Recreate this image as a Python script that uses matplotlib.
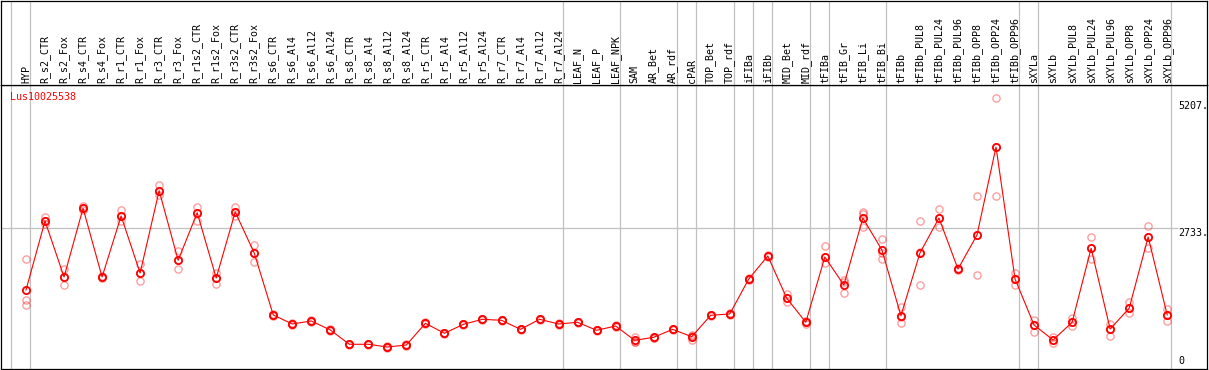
import numpy as np
import matplotlib.pyplot as plt

# Column labels, in the order they appear along the x axis.
samples = ['HYP',
           'R_s2_CTR', 'R_s2_Fox', 'R_s4_CTR', 'R_s4_Fox', 'R_r1_CTR', 'R_r1_Fox',
           'R_r3_CTR', 'R_r3_Fox', 'R_r1s2_CTR', 'R_r1s2_Fox', 'R_r3s2_CTR', 'R_r3s2_Fox',
           'R_s6_CTR', 'R_s6_Al4', 'R_s6_Al12', 'R_s6_Al24',
           'R_s8_CTR', 'R_s8_Al4', 'R_s8_Al12', 'R_s8_Al24',
           'R_r5_CTR', 'R_r5_Al4', 'R_r5_Al12', 'R_r5_Al24',
           'R_r7_CTR', 'R_r7_Al4', 'R_r7_Al12', 'R_r7_Al24',
           'LEAF_N', 'LEAF_P', 'LEAF_NPK',
           'SAM', 'AR_Bet', 'AR_rdf',
           'cPAR',
           'TOP_Bet', 'TOP_rdf',
           'iFIBa',
           'iFIBb',
           'MID_Bet', 'MID_rdf',
           'tFIBa',
           'tFIB_Gr', 'tFIB_Li', 'tFIB_Bi',
           'tFIBb', 'tFIBb_PUL8', 'tFIBb_PUL24', 'tFIBb_PUL96',
           'tFIBb_OPP8', 'tFIBb_OPP24', 'tFIBb_OPP96',
           'sXYLa',
           'sXYLb', 'sXYLb_PUL8', 'sXYLb_PUL24', 'sXYLb_PUL96',
           'sXYLb_OPP8', 'sXYLb_OPP24', 'sXYLb_OPP96']

# Last sample of each group; a grey separator follows it.
group_ends = ['HYP', 'R_r7_Al24', 'LEAF_NPK', 'AR_rdf', 'cPAR', 'TOP_rdf',
              'iFIBa', 'iFIBb', 'MID_rdf', 'tFIBa', 'tFIB_Bi', 'tFIBb_OPP96',
              'sXYLa', 'sXYLb_OPP96']

# Mean expression per sample.
means = [1527,
         2869, 1780, 3116, 1780, 2966, 1857, 3458, 2104, 3030, 1760, 3044, 2246,
         1041, 866, 924, 749,
         471, 471, 418, 457,
         879, 685, 860, 957,
         937, 762, 957, 866,
         899, 743, 827,
         548, 607, 762,
         618,
         1035, 1060,
         1741,
         2188,
         1365, 899,
         2169,
         1624, 2927, 2305,
         1027, 2246, 2927, 1935,
         2597, 4308, 1741,
         846,
         554, 899, 2338, 768,
         1171, 2558, 1041]

# Replicate values (three per sample).
rep1 = [2130,
        2953, 1941, 3161, 1799, 3083, 2033, 3575, 2285, 3147, 1863, 3147, 2402,
        1060, 880, 940, 765,
        485, 480, 430, 470,
        895, 700, 875, 970,
        950, 775, 970, 880,
        912, 755, 840,
        607, 620, 775,
        660,
        1050, 1075,
        1755,
        2200,
        1443, 930,
        2383,
        1721, 3050, 2513,
        1202, 2863, 3102, 1960,
        3355, 5255, 1863,
        943,
        618, 976, 2552, 860,
        1288, 2772, 1151]
rep2 = [1332,
        2869, 1780, 3122, 1780, 2966, 1857, 3458, 2104, 3030, 1760, 3044, 2246,
        1041, 866, 924, 749,
        471, 471, 418, 457,
        879, 685, 860, 957,
        937, 762, 957, 866,
        899, 743, 827,
        520, 600, 762,
        640,
        1035, 1060,
        1741,
        2188,
        1365, 899,
        2169,
        1688, 3005, 2246,
        1000, 2266, 2927, 1935,
        2597, 4308, 1741,
        846,
        554, 899, 2338, 768,
        1171, 2558, 1041]
rep3 = [1235,
        2811, 1618, 3083, 1760, 2869, 1702, 3375, 1929, 2875, 1638, 2966, 2071,
        1025, 850, 910, 735,
        460, 460, 405, 445,
        865, 670, 845, 945,
        925, 750, 945, 852,
        885, 730, 815,
        520, 595, 750,
        554,
        1020, 1045,
        1728,
        2175,
        1299, 870,
        2046,
        1463, 2758, 2130,
        879, 1624, 2758, 1910,
        1819, 3355, 1624,
        716,
        490, 832, 2130, 638,
        1074, 2338, 930]

gene = 'Lus10025538'
max_label = '5207.'
mid_value = 2733
mid_label = '2733.'

W, H = 1209, 370
FONT = 'DejaVu Sans Mono'
FS = 7.2
GRID = '#c0c0c0'

x = np.arange(len(samples))
# pixel geometry of the column grid
x0_px, step_px = 26, 19.02
left_px, right_px = 1, 1207
head_px, bottom_px = 85, 369
scale = 19.45  # data units per pixel

xlim = ((left_px - x0_px) / step_px, (right_px - x0_px) / step_px)
ylim = (-0.5 * scale, (bottom_px - head_px - 0.5) * scale)

fig = plt.figure(figsize=(W / 100, H / 100), dpi=100)
ax = fig.add_axes([left_px / W, (H - bottom_px) / H,
                   (right_px - left_px) / W, (bottom_px - head_px) / H])
hx = fig.add_axes([left_px / W, (H - head_px) / H,
                   (right_px - left_px) / W, (head_px - 0.5) / H])

for a in (ax, hx):
    a.set_xlim(xlim)
    a.set_xticks([])
    a.set_yticks([])
    for s in a.spines.values():
        s.set_linewidth(0.9)
        s.set_color('black')
    seps = [-1] + [samples.index(g) for g in group_ends]
    for i in seps:
        a.axvline(i + 4 / step_px, color=GRID, lw=0.9, zorder=0)
ax.set_ylim(ylim)
hx.set_ylim(0, head_px)

# column labels
for i, name in enumerate(samples):
    hx.text(i, 2, name, rotation=90, ha='center', va='bottom',
            family=FONT, fontsize=FS, color='black')

# reference line and value labels on the right
lab_x = (1178 - x0_px) / step_px
ax.hlines(mid_value, xlim[0], lab_x, color=GRID, lw=0.9, zorder=0)
ax.text(lab_x, mid_value, mid_label, ha='left', va='top',
        family=FONT, fontsize=FS)
ax.text(lab_x, float(max_label.rstrip('.')), max_label, ha='left', va='top',
        family=FONT, fontsize=FS)
ax.annotate('0', (lab_x, 0), xytext=(0, 2), textcoords='offset points',
            ha='left', va='bottom', family=FONT, fontsize=FS)

ax.text((10 - x0_px) / step_px, ylim[1] - 12 * scale, gene, color='red',
        ha='left', va='center', family=FONT, fontsize=FS)

# replicates
for reps in (rep1, rep2, rep3):
    ax.plot(x, reps, ls='none', marker='o', ms=5.2, mfc='none',
            mec=(1, 0, 0, 0.38), mew=1.0, zorder=2)

# means
ax.plot(x, means, color='red', lw=0.8, marker='o', ms=5.2, mfc='none',
        mec='red', mew=1.3, zorder=3)

plt.savefig('out.png', dpi=100)
